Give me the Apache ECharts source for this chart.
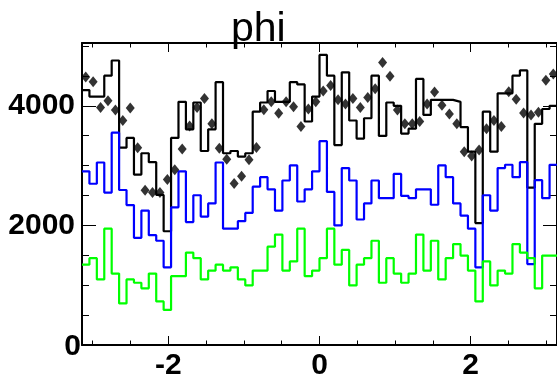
<!DOCTYPE html>
<html>
<head>
<meta charset="utf-8">
<script src="https://cdn.jsdelivr.net/npm/echarts@6/dist/echarts.min.js"></script>
<style>
html,body{margin:0;padding:0;background:#fff;}
#chart{width:557px;height:381px;}
</style>
</head>
<body>
<div id="chart"></div>
<script>
const titleText = 'phi';
const binCount = 64;
const xMin = -Math.PI;
const xMax = Math.PI;
const yMin = 0;
const yMax = 5050;

const blackHist = [4263,4154,4154,4504,4757,3299,3463,2850,3206,3058,2510,1902,3463,4066,3606,4055,
                   3244,3606,4395,3206,3244,3151,3206,3902,4055,4247,4066,4066,4395,4357,3737,4154,
                   4850,4504,3343,4559,3754,3452,3792,4504,3496,4055,4000,3535,3617,4450,3847,4099,
                   4099,4099,4066,3644,3233,2039,3902,3233,4209,4209,4504,4592,2630,3699,3946,4000];
const blueHist = [2904,2696,3052,2548,3551,2592,2340,1792,2247,1836,1743,1299,2302,2904,2055,2504,
                  2148,2367,3052,1945,1945,2071,2208,2647,2806,2603,2247,2751,3003,2400,2603,2904,
                  3409,2559,2000,2959,2751,2099,2367,2751,2455,2455,2861,2493,2455,2603,2603,2345,
                  3003,2806,2367,2165,1945,1299,2504,2247,2959,3014,2806,3058,1354,2756,2455,3014];
const greenHist = [1343,1452,1096,1945,1195,696,1096,1041,948,1195,729,586,1151,1151,1545,1452,
                   1096,1244,1343,1244,1299,1096,997,1244,1244,1644,1847,1244,1397,1945,1151,1244,
                   1452,1945,1343,1589,997,1343,1452,1743,1041,1452,1195,1041,1195,1847,1244,1743,
                   1096,1452,1688,1496,1244,729,1397,997,1244,1195,1688,1545,1452,948,1496,1496];
const dataPoints = [4483,4400,3973,4083,3929,3754,3962,3299,2587,2548,2548,2767,2932,3277,3661,3973,
                    4121,3699,3288,3107,2702,2822,3096,3304,3935,4066,3874,4066,3984,3655,3946,4066,
                    4247,4340,4099,4028,4121,3973,4137,4285,4724,4494,3929,3699,3699,3737,4028,4231,
                    4011,3863,3699,3233,3162,3261,3617,3754,3655,4236,4110,3880,3847,3891,4428,4532];

const xMajorTicks = [-2, 0, 2];
const xMinorTicks = [-3, -2.5, -1.5, -1, -0.5, 0.5, 1, 1.5, 2.5, 3];
const yMajorTicks = [0, 2000, 4000];
const yMinorTicks = [500, 1000, 1500, 2500, 3000, 3500, 4500, 5000];

const binWidth = (xMax - xMin) / binCount;
function stepData(vals) {
  const out = [];
  for (let i = 0; i <= binCount; i++) {
    out.push([xMin + i * binWidth, vals[Math.min(i, binCount - 1)]]);
  }
  return out;
}
const pointData = dataPoints.map((v, i) => [xMin + (i + 0.5) * binWidth, v]);

const FONT = 'Liberation Sans, Arial, Helvetica, sans-serif';
const labelFont = {fontSize: 30, fontWeight: 'bold', color: '#000', fontFamily: FONT};

function xAx(pos, ticks, len, showLine, labels) {
  return {
    type: 'value', position: pos, min: xMin, max: xMax,
    axisLine: {show: showLine, onZero: false, lineStyle: {color: '#000', width: 2}},
    axisTick: {show: true, inside: true, length: len, customValues: ticks, lineStyle: {color: '#000', width: 1}},
    axisLabel: labels ? Object.assign({show: true, customValues: ticks, margin: 6,
      formatter: v => String(Math.round(v))}, labelFont) : {show: false},
    splitLine: {show: false}
  };
}
function yAx(pos, ticks, len, showLine, labels) {
  return {
    type: 'value', position: pos, min: yMin, max: yMax,
    axisLine: {show: showLine, onZero: false, lineStyle: {color: '#000', width: 2}},
    axisTick: {show: true, inside: true, length: len, customValues: ticks, lineStyle: {color: '#000', width: 1}},
    axisLabel: labels ? Object.assign({show: true, customValues: ticks, margin: 1,
      formatter: v => (v === 0 ? '{z|0}' : '{n|' + v + '}'),
      rich: {
        z: Object.assign({padding: [4, 0, 0, 0]}, labelFont),
        n: Object.assign({padding: [0, 6, 0, 0]}, labelFont)
      }}, labelFont) : {show: false},
    splitLine: {show: false}
  };
}

const chart = echarts.init(document.getElementById('chart'), null, {renderer: 'canvas'});
chart.setOption({
  animation: false,
  backgroundColor: '#fff',
  title: {text: titleText, left: 226, top: 4,
    textStyle: {fontSize: 41, fontWeight: 'normal', color: '#000', fontFamily: FONT}},
  grid: {left: 82, right: -3, top: 43, bottom: 31, containLabel: false},
  xAxis: [
    xAx('bottom', xMajorTicks, 9, true, true),
    xAx('bottom', xMinorTicks, 4.5, false, false),
    xAx('top', xMajorTicks, 9, true, false),
    xAx('top', xMinorTicks, 4.5, false, false)
  ],
  yAxis: [
    yAx('left', yMajorTicks, 14, true, true),
    yAx('left', yMinorTicks, 7, false, false),
    yAx('right', yMajorTicks, 14, true, false),
    yAx('right', yMinorTicks, 7, false, false)
  ],
  series: [
    {type: 'line', step: 'end', data: stepData(blackHist), showSymbol: false, xAxisIndex: 0, yAxisIndex: 0,
      lineStyle: {color: '#000000', width: 2.2}, z: 2},
    {type: 'line', step: 'end', data: stepData(blueHist), showSymbol: false, xAxisIndex: 0, yAxisIndex: 0,
      lineStyle: {color: '#0000ff', width: 2.2}, z: 3},
    {type: 'line', step: 'end', data: stepData(greenHist), showSymbol: false, xAxisIndex: 0, yAxisIndex: 0,
      lineStyle: {color: '#00ff00', width: 2.2}, z: 4},
    {type: 'scatter', data: pointData, symbol: 'diamond', symbolSize: [9, 11], xAxisIndex: 0, yAxisIndex: 0,
      itemStyle: {color: '#000'}, z: 5}
  ]
});
</script>
</body>
</html>
